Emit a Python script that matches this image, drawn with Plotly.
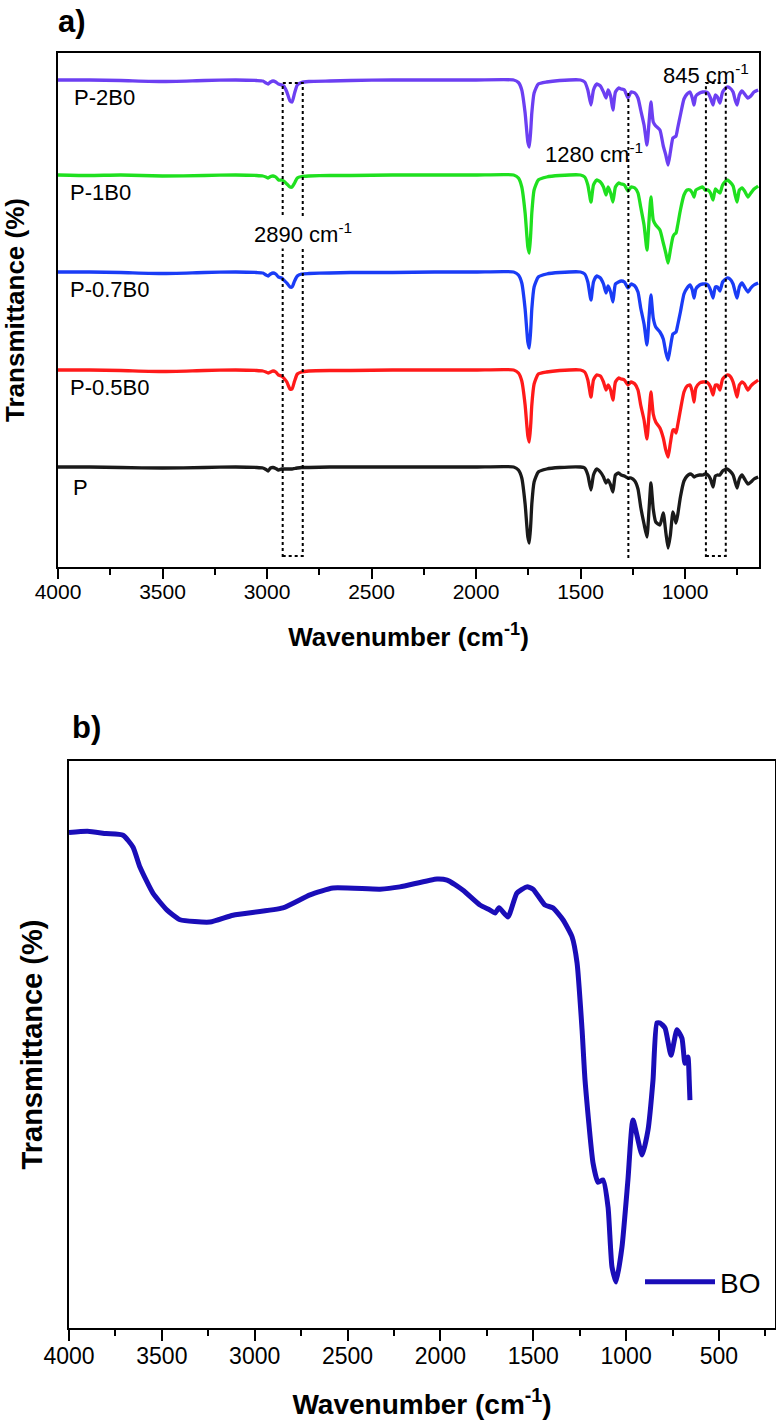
import plotly.graph_objects as go

# ---------------- data: panel a (FTIR, relative transmittance, px-scaled a.u.) ----------------
WN_A = [4000, 3850, 3700, 3500, 3300, 3150, 3050, 3020, 3005, 2995, 2983, 2971, 2958, 2945,
        2930, 2920, 2905, 2890, 2880, 2868, 2855, 2835, 2800, 2700, 2600, 2400, 2200, 2000,
        1820, 1797, 1781, 1765, 1752, 1745, 1738, 1733, 1722, 1702, 1662, 1600, 1500, 1480,
        1465, 1450, 1438, 1423, 1405, 1390, 1378, 1368, 1356, 1345, 1333, 1318, 1305, 1290,
        1273, 1258, 1240, 1225, 1212, 1196, 1182, 1172, 1163, 1152, 1140, 1120, 1104, 1092,
        1081, 1070, 1058, 1050, 1043, 1035, 1022, 1005, 990, 976, 965, 957, 948, 930,
        915, 904, 890, 878, 866, 855, 845, 833, 820, 799, 785, 770, 760, 751,
        740, 727, 715, 699, 685, 670, 650]

P_2B0 = [0, 0, -0.5, -1.5, -0.5, 0, -0.5, -1, -3, -4, -2, -1, -2, -4,
         -5, -6, -12, -21, -22, -13, -5, -2.5, -1.5, -1, -0.5, 0, 0, 0,
         0, -2.5, -10, -33, -62, -67, -50, -33, -13, -4, -2, -0.5, 0, -2,
         -10, -25, -10, -4, -6, -12, -18, -10, -16, -30, -12, -8, -9, -10,
         -18, -12, -13, -18, -30, -45, -65, -42, -22, -42, -46, -50, -66, -75,
         -85, -72, -58, -57, -56, -48, -35, -19, -14, -12, -18, -25, -16, -13,
         -12, -12, -13, -18, -25, -15, -17, -23, -12, -7, -8, -12, -20, -25,
         -15, -11, -14, -18, -16, -12, -10]

P_1B0 = [0, -0.5, 0, -1, -0.5, 0, -0.5, -1, -2, -3, -1.5, -1, -2, -5,
         -5, -6, -9, -12, -12, -8, -3, -1.5, -1, -0.5, -0.5, 0, 0, 0,
         0, -3, -12, -38, -72, -78, -58, -38, -15, -5, -2, -0.5, 0, -2,
         -10, -27, -10, -5, -7, -12, -20, -12, -18, -27, -12, -8, -9, -10,
         -16, -12, -13, -18, -32, -50, -75, -45, -22, -45, -50, -55, -68, -78,
         -88, -75, -62, -59, -58, -50, -35, -20, -15, -15, -18, -22, -15, -13,
         -12, -15, -15, -18, -25, -14, -16, -18, -10, -5, -7, -11, -20, -27,
         -15, -13, -16, -22, -18, -14, -11]

P_07B0 = [0, 0, -0.5, -1.5, -0.5, 0, -0.5, -1, -3, -4, -2, -1, -2, -5,
          -6, -8, -11, -15, -15, -9, -4, -2, -1.5, -1, -0.5, -0.5, 0, 0,
          0, -3, -11, -37, -70, -76, -57, -37, -15, -5, -2, -0.5, 0, -2,
          -10, -28, -10, -4, -6, -12, -21, -14, -20, -30, -12, -10, -9, -10,
          -16, -12, -14, -20, -36, -52, -73, -45, -23, -46, -55, -60, -67, -80,
          -88, -75, -62, -61, -60, -53, -40, -22, -16, -13, -18, -26, -17, -13,
          -12, -12, -13, -18, -26, -15, -15, -19, -10, -6, -7, -12, -20, -26,
          -15, -11, -15, -20, -16, -13, -11]

P_05B0 = [0, 0, -0.5, -1.5, -0.5, 0, -0.5, -1, -2, -3, -2, -1, -2, -5,
          -6, -8, -12, -19, -19, -11, -4, -2, -1, -0.5, -0.5, 0, 0, 0,
          0, -3, -11, -35, -66, -72, -54, -35, -14, -4, -2, -0.5, 0, -2,
          -10, -27, -10, -5, -6, -12, -20, -15, -20, -30, -12, -8, -9, -10,
          -15, -12, -14, -20, -35, -50, -69, -44, -22, -44, -52, -58, -68, -80,
          -87, -73, -60, -60, -63, -55, -40, -22, -16, -15, -22, -32, -18, -13,
          -12, -12, -13, -17, -25, -15, -15, -20, -9, -5, -6, -12, -20, -27,
          -15, -12, -14, -20, -16, -13, -10]

P_NEAT = [0, 0, -0.5, -1, -0.5, 0, -0.5, -1, -2.5, -4, -1, -0.5, -1.5, -3,
          -2, -2, -2, -2, -2, -1.5, -1, -0.5, -0.5, 0, 0, 0, 0, 0,
          0, -3, -11, -37, -70, -76, -57, -37, -15, -5, -2, -0.5, 0, -1,
          -8, -23, -8, -2, -5, -10, -16, -13, -18, -25, -8, -6, -8, -9,
          -11, -11, -14, -22, -40, -57, -70, -42, -16, -42, -55, -58, -46, -65,
          -81, -68, -45, -50, -56, -48, -30, -14, -9, -7, -8, -10, -9, -8,
          -8, -7, -8, -12, -20, -9, -8, -8, -4, -2, -4, -8, -15, -21,
          -12, -8, -12, -17, -15, -12, -10]

SERIES_A = ["P-2B0", "P-1B0", "P-0.7B0", "P-0.5B0", "P"]
VALUES_A = [P_2B0, P_1B0, P_07B0, P_05B0, P_NEAT]

# marked bands (cm-1) drawn as dotted guides
BAND_2890 = [2925, 2829]
BAND_1280 = [1271]
BAND_845 = [900, 805]

# ---------------- data: panel b (BO) ----------------
BO_WN = [4000, 3900, 3800, 3709, 3655, 3618, 3548, 3472, 3402, 3241, 3117, 2848, 2702, 2578,
         2325, 2218, 2018, 1964, 1878, 1787, 1733, 1706, 1684, 1636, 1588, 1534, 1501, 1437,
         1394, 1340, 1291, 1264, 1237, 1221, 1178, 1151, 1124, 1097, 1076, 1054, 1022, 990,
         963, 914, 882, 855, 834, 817, 790, 758, 726, 699, 683, 667, 660, 656]
BO_T = [87.4, 87.6, 87.2, 86.9, 84.8, 81.3, 76.7, 73.7, 72.0, 71.6, 72.8, 74.1, 76.4, 77.6,
        77.4, 77.8, 79.2, 79.0, 77.2, 74.6, 73.7, 73.2, 74.1, 72.5, 76.7, 77.8, 77.4, 74.6,
        74.1, 72.0, 69.0, 64.4, 52.6, 43.7, 29.1, 25.7, 26.1, 21.3, 10.8, 8.1, 14.3, 26.1,
        36.7, 30.5, 34.9, 43.7, 53.8, 53.8, 52.9, 48.1, 52.6, 51.1, 46.7, 47.8, 43.7, 40.2]

# ---------------- styling / layout ----------------
W, H = 776, 1422
COLORS_A = ["#6c3ff2", "#1fe01f", "#1a3cf6", "#ff1a1a", "#1a1a1a"]
OFFSETS_A = [487, 392, 295, 197, 100]
LABEL_POS_A = [(3933, 469), (3952, 374), (3952, 277), (3952, 179), (3938, 79)]
BO_COLOR = "#1a0db8"
FONT = "Arial, Liberation Sans, sans-serif"

fig = go.Figure()

for name, vals, col, off in zip(SERIES_A, VALUES_A, COLORS_A, OFFSETS_A):
    fig.add_trace(go.Scatter(x=WN_A, y=[off + v for v in vals], mode="lines", name=name,
                             line=dict(color=col, width=3.3, shape="spline", smoothing=0.5),
                             xaxis="x", yaxis="y", showlegend=False, hoverinfo="skip"))

fig.add_trace(go.Scatter(x=BO_WN, y=BO_T, mode="lines", name="BO",
                         line=dict(color=BO_COLOR, width=5, shape="spline", smoothing=0.5),
                         xaxis="x2", yaxis="y2", showlegend=True))

def px_dom_x(a, b):
    return [a / W, b / W]

def px_dom_y(top, bottom):
    return [(H - bottom) / H, (H - top) / H]

axis_common = dict(showline=True, linewidth=2, linecolor="black", mirror=True,
                   showgrid=False, zeroline=False, automargin=False)

fig.update_layout(
    width=W, height=H, margin=dict(l=0, r=0, t=0, b=0, autoexpand=False),
    paper_bgcolor="white", plot_bgcolor="white",
    font=dict(family=FONT, color="black"),
    xaxis=dict(domain=px_dom_x(58, 759), anchor="y", range=[4000, 646],
               tick0=0, dtick=500, ticks="outside", ticklen=10, tickwidth=2, tickcolor="black",
               tickfont=dict(size=21), ticklabelstandoff=-5,
               minor=dict(ticks="outside", ticklen=6, tickwidth=2, tickcolor="black", dtick=250),
               title=dict(text="<b>Wavenumber (cm<sup>-1</sup>)</b>", font=dict(size=26), standoff=26),
               **axis_common),
    yaxis=dict(domain=px_dom_y(53, 567), anchor="x", range=[0, 514],
               showticklabels=False, ticks="",
               title=dict(text="<b>Transmittance (%)</b>", font=dict(size=26), standoff=24),
               **axis_common),
    xaxis2=dict(domain=px_dom_x(69, 775), anchor="y2", range=[4000, 198],
                tick0=0, dtick=500, ticks="outside", ticklen=11, tickwidth=2, tickcolor="black",
                tickfont=dict(size=23), ticklabelstandoff=-5,
                minor=dict(ticks="outside", ticklen=6, tickwidth=2, tickcolor="black", dtick=250),
                title=dict(text="<b>Wavenumber (cm<sup>-1</sup>)</b>", font=dict(size=28), standoff=27),
                **axis_common),
    yaxis2=dict(domain=px_dom_y(761, 1328), anchor="x2", range=[0, 100],
                showticklabels=False, ticks="",
                title=dict(text="<b>Transmittance (%)</b>", font=dict(size=29), standoff=16),
                **axis_common),
    legend=dict(x=640 / W, y=(H - 1282) / H, xanchor="left", yanchor="middle",
                font=dict(size=28, family=FONT), itemwidth=70, bgcolor="rgba(0,0,0,0)",
                borderwidth=0),
    showlegend=True,
)

dot = dict(color="black", width=2, dash="dot")
shapes = [
    dict(type="rect", xref="x", yref="y", x0=BAND_2890[0], x1=BAND_2890[1], y0=11, y1=484, line=dot),
    dict(type="line", xref="x", yref="y", x0=BAND_1280[0], x1=BAND_1280[0], y0=9, y1=474, line=dot),
    dict(type="rect", xref="x", yref="y", x0=BAND_845[0], x1=BAND_845[1], y0=11, y1=484, line=dot),
]
fig.update_layout(shapes=shapes)

annotations = []
for name, (lx, ly) in zip(SERIES_A, LABEL_POS_A):
    annotations.append(dict(x=lx, y=ly, xref="x", yref="y", text=name, showarrow=False,
                            xanchor="left", yanchor="middle", font=dict(size=22, family=FONT)))
annotations += [
    dict(x=3072, y=334, xref="x", yref="y", text="2890 cm<sup>-1</sup>", showarrow=False,
         xanchor="left", yanchor="middle", font=dict(size=22, family=FONT), bgcolor="white"),
    dict(x=1679, y=414, xref="x", yref="y", text="1280 cm<sup>-1</sup>", showarrow=False,
         xanchor="left", yanchor="middle", font=dict(size=22, family=FONT)),
    dict(x=1115, y=493, xref="x", yref="y", text="845 cm<sup>-1</sup>", showarrow=False,
         xanchor="left", yanchor="middle", font=dict(size=22, family=FONT)),
    dict(x=56 / W, y=(H - 22) / H, xref="paper", yref="paper", text="<b>a)</b>", showarrow=False,
         xanchor="left", yanchor="middle", font=dict(size=31, family=FONT)),
    dict(x=70 / W, y=(H - 727) / H, xref="paper", yref="paper", text="<b>b)</b>", showarrow=False,
         xanchor="left", yanchor="middle", font=dict(size=31, family=FONT)),
]
fig.update_layout(annotations=annotations)

fig.write_html("out.html")
